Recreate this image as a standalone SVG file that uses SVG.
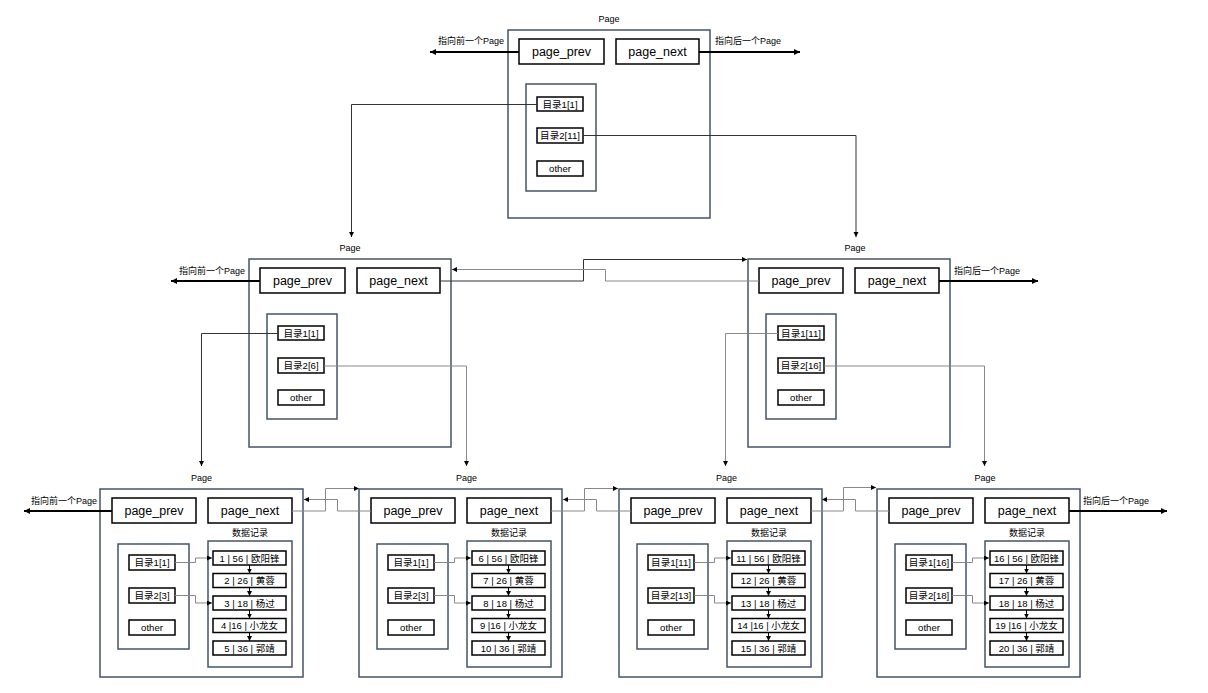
<svg xmlns="http://www.w3.org/2000/svg" width="1208" height="693" viewBox="0 0 1208 693">
<defs>
<marker id="arr" markerUnits="userSpaceOnUse" markerWidth="7" markerHeight="7" refX="6" refY="3" orient="auto"><path d="M0,0 L6,3 L0,6 z" fill="#000"/></marker>
<marker id="arrs" markerUnits="userSpaceOnUse" markerWidth="6" markerHeight="6" refX="5" refY="2.5" orient="auto"><path d="M0,0 L5,2.5 L0,5 z" fill="#000"/></marker>
</defs>
<style>
text{font-family:"Liberation Sans","Noto Sans CJK SC",sans-serif;fill:#000;text-anchor:middle;dominant-baseline:central}
.outer{fill:#fff;stroke:#44546a;stroke-width:1.5}
.inner{fill:none;stroke:#44546a;stroke-width:1.5}
.box{fill:#fff;stroke:#000;stroke-width:1.5}
.big{font-size:12.5px}
.sm{font-size:9px}
.dir{font-size:9.6px}
.rec{font-size:9.5px}
.lnk{fill:none;stroke:#333;stroke-width:1}
.lnkg{fill:none;stroke:#888;stroke-width:1}
.ext{fill:none;stroke:#000;stroke-width:1.8}
.ra{fill:none;stroke:#000;stroke-width:1}
</style>

<g id="page-top" transform="translate(508,30)">
<text class="sm" x="101" y="-11">Page</text>
<rect class="outer" x="0" y="0" width="202" height="188"/>
<rect class="box" x="11" y="9" width="85" height="25"/><text class="big" x="53.5" y="21.5">page_prev</text>
<rect class="box" x="108" y="9" width="83" height="25"/><text class="big" x="149.5" y="21.5">page_next</text>
<rect class="inner" x="18" y="54" width="70" height="107"/>
<rect class="box" x="29" y="67" width="46" height="14"/><text class="dir" x="52" y="74">目录1[1]</text>
<rect class="box" x="29" y="98" width="46" height="15"/><text class="dir" x="52" y="105.5">目录2[11]</text>
<rect class="box" x="29" y="131" width="46" height="15"/><text class="dir" x="52" y="138.5">other</text>
</g>

<g id="page-mid-left" transform="translate(249,259)">
<text class="sm" x="101" y="-11">Page</text>
<rect class="outer" x="0" y="0" width="202" height="188"/>
<rect class="box" x="11" y="9" width="85" height="25"/><text class="big" x="53.5" y="21.5">page_prev</text>
<rect class="box" x="108" y="9" width="83" height="25"/><text class="big" x="149.5" y="21.5">page_next</text>
<rect class="inner" x="18" y="55" width="70" height="105"/>
<rect class="box" x="29" y="67" width="46" height="14"/><text class="dir" x="52" y="74">目录1[1]</text>
<rect class="box" x="29" y="99" width="46" height="15"/><text class="dir" x="52" y="106.5">目录2[6]</text>
<rect class="box" x="29" y="131" width="46" height="15"/><text class="dir" x="52" y="138.5">other</text>
</g>

<g id="page-mid-right" transform="translate(748,259)">
<text class="sm" x="107" y="-11">Page</text>
<rect class="outer" x="0" y="0" width="202" height="188"/>
<rect class="box" x="11" y="9" width="84" height="25"/><text class="big" x="53" y="21.5">page_prev</text>
<rect class="box" x="107" y="9" width="84" height="25"/><text class="big" x="149" y="21.5">page_next</text>
<rect class="inner" x="18" y="55" width="70" height="105"/>
<rect class="box" x="30" y="67" width="46" height="14"/><text class="dir" x="53" y="74">目录1[11]</text>
<rect class="box" x="30" y="99" width="46" height="15"/><text class="dir" x="53" y="106.5">目录2[16]</text>
<rect class="box" x="30" y="131" width="46" height="15"/><text class="dir" x="53" y="138.5">other</text>
</g>

<g id="page-leaf-1" transform="translate(100,489)">
<text class="sm" x="101.5" y="-11">Page</text>
<rect class="outer" x="0" y="0" width="203" height="188"/>
<rect class="box" x="12" y="9" width="84" height="25"/><text class="big" x="54" y="21.5">page_prev</text>
<rect class="box" x="108" y="9" width="84" height="25"/><text class="big" x="150" y="21.5">page_next</text>
<text class="sm" x="150" y="44">数据记录</text>
<rect class="inner" x="18" y="55" width="71" height="105"/>
<rect class="inner" x="108" y="52" width="84" height="126"/>
<rect class="box" x="29" y="66" width="46" height="15"/><text class="dir" x="52" y="73.5">目录1[1]</text>
<rect class="box" x="29" y="99" width="46" height="15"/><text class="dir" x="52" y="106.5">目录2[3]</text>
<rect class="box" x="29" y="131" width="46" height="15"/><text class="dir" x="52" y="138.5">other</text>
<rect class="box" x="113" y="62" width="73" height="14"/><text class="rec" x="149.5" y="69">1 | 56 | 欧阳锋</text>
<rect class="box" x="113" y="84.5" width="73" height="14"/><text class="rec" x="149.5" y="91.5">2 | 26 | 黄蓉</text>
<rect class="box" x="113" y="107" width="73" height="14"/><text class="rec" x="149.5" y="114">3 | 18 | 杨过</text>
<rect class="box" x="113" y="129.5" width="73" height="14"/><text class="rec" x="149.5" y="136.5">4 |16 | 小龙女</text>
<rect class="box" x="113" y="152" width="73" height="14"/><text class="rec" x="149.5" y="159">5 | 36 | 郭靖</text>
</g>

<g id="page-leaf-2" transform="translate(359,489)">
<text class="sm" x="107.5" y="-11">Page</text>
<rect class="outer" x="0" y="0" width="203" height="188"/>
<rect class="box" x="12" y="9" width="84" height="25"/><text class="big" x="54" y="21.5">page_prev</text>
<rect class="box" x="108" y="9" width="84" height="25"/><text class="big" x="150" y="21.5">page_next</text>
<text class="sm" x="150" y="44">数据记录</text>
<rect class="inner" x="18" y="55" width="71" height="105"/>
<rect class="inner" x="108" y="52" width="84" height="126"/>
<rect class="box" x="29" y="66" width="46" height="15"/><text class="dir" x="52" y="73.5">目录1[1]</text>
<rect class="box" x="29" y="99" width="46" height="15"/><text class="dir" x="52" y="106.5">目录2[3]</text>
<rect class="box" x="29" y="131" width="46" height="15"/><text class="dir" x="52" y="138.5">other</text>
<rect class="box" x="113" y="62" width="73" height="14"/><text class="rec" x="149.5" y="69">6 | 56 | 欧阳锋</text>
<rect class="box" x="113" y="84.5" width="73" height="14"/><text class="rec" x="149.5" y="91.5">7 | 26 | 黄蓉</text>
<rect class="box" x="113" y="107" width="73" height="14"/><text class="rec" x="149.5" y="114">8 | 18 | 杨过</text>
<rect class="box" x="113" y="129.5" width="73" height="14"/><text class="rec" x="149.5" y="136.5">9 |16 | 小龙女</text>
<rect class="box" x="113" y="152" width="73" height="14"/><text class="rec" x="149.5" y="159">10 | 36 | 郭靖</text>
</g>

<g id="page-leaf-3" transform="translate(619,489)">
<text class="sm" x="107.5" y="-11">Page</text>
<rect class="outer" x="0" y="0" width="203" height="188"/>
<rect class="box" x="12" y="9" width="84" height="25"/><text class="big" x="54" y="21.5">page_prev</text>
<rect class="box" x="108" y="9" width="84" height="25"/><text class="big" x="150" y="21.5">page_next</text>
<text class="sm" x="150" y="44">数据记录</text>
<rect class="inner" x="18" y="55" width="71" height="105"/>
<rect class="inner" x="108" y="52" width="84" height="126"/>
<rect class="box" x="29" y="66" width="46" height="15"/><text class="dir" x="52" y="73.5">目录1[11]</text>
<rect class="box" x="29" y="99" width="46" height="15"/><text class="dir" x="52" y="106.5">目录2[13]</text>
<rect class="box" x="29" y="131" width="46" height="15"/><text class="dir" x="52" y="138.5">other</text>
<rect class="box" x="113" y="62" width="73" height="14"/><text class="rec" x="149.5" y="69">11 | 56 | 欧阳锋</text>
<rect class="box" x="113" y="84.5" width="73" height="14"/><text class="rec" x="149.5" y="91.5">12 | 26 | 黄蓉</text>
<rect class="box" x="113" y="107" width="73" height="14"/><text class="rec" x="149.5" y="114">13 | 18 | 杨过</text>
<rect class="box" x="113" y="129.5" width="73" height="14"/><text class="rec" x="149.5" y="136.5">14 |16 | 小龙女</text>
<rect class="box" x="113" y="152" width="73" height="14"/><text class="rec" x="149.5" y="159">15 | 36 | 郭靖</text>
</g>

<g id="page-leaf-4" transform="translate(877,489)">
<text class="sm" x="108" y="-11">Page</text>
<rect class="outer" x="0" y="0" width="203" height="188"/>
<rect class="box" x="12" y="9" width="84" height="25"/><text class="big" x="54" y="21.5">page_prev</text>
<rect class="box" x="108" y="9" width="84" height="25"/><text class="big" x="150" y="21.5">page_next</text>
<text class="sm" x="150" y="44">数据记录</text>
<rect class="inner" x="18" y="55" width="71" height="105"/>
<rect class="inner" x="108" y="52" width="84" height="126"/>
<rect class="box" x="29" y="66" width="46" height="15"/><text class="dir" x="52" y="73.5">目录1[16]</text>
<rect class="box" x="29" y="99" width="46" height="15"/><text class="dir" x="52" y="106.5">目录2[18]</text>
<rect class="box" x="29" y="131" width="46" height="15"/><text class="dir" x="52" y="138.5">other</text>
<rect class="box" x="113" y="62" width="73" height="14"/><text class="rec" x="149.5" y="69">16 | 56 | 欧阳锋</text>
<rect class="box" x="113" y="84.5" width="73" height="14"/><text class="rec" x="149.5" y="91.5">17 | 26 | 黄蓉</text>
<rect class="box" x="113" y="107" width="73" height="14"/><text class="rec" x="149.5" y="114">18 | 18 | 杨过</text>
<rect class="box" x="113" y="129.5" width="73" height="14"/><text class="rec" x="149.5" y="136.5">19 |16 | 小龙女</text>
<rect class="box" x="113" y="152" width="73" height="14"/><text class="rec" x="149.5" y="159">20 | 36 | 郭靖</text>
</g>

<g id="connectors">
<path class="ext" d="M519,52 H430" marker-end="url(#arr)"/>
<text class="sm" x="471" y="41">指向前一个Page</text>
<path class="ext" d="M699,52 H800" marker-end="url(#arr)"/>
<text class="sm" x="748" y="41">指向后一个Page</text>
<path class="ext" d="M260,281 H171" marker-end="url(#arr)"/>
<text class="sm" x="212" y="270.5">指向前一个Page</text>
<path class="ext" d="M939,281 H1038" marker-end="url(#arr)"/>
<text class="sm" x="987" y="270.5">指向后一个Page</text>
<path class="ext" d="M112,511 H24" marker-end="url(#arr)"/>
<text class="sm" x="64" y="500.5">指向前一个Page</text>
<path class="ext" d="M1069,511 H1167" marker-end="url(#arr)"/>
<text class="sm" x="1116" y="500.5">指向后一个Page</text>

<path class="lnk" d="M537,104.5 H351.5 V237" marker-end="url(#arrs)"/>
<path class="lnk" d="M583,135.5 H856 V237" marker-end="url(#arrs)"/>

<path class="lnk" d="M278,333.5 H201.5 V466" marker-end="url(#arrs)"/>
<path class="lnkg" d="M324,366 H466.5 V466" marker-end="url(#arrs)"/>
<path class="lnkg" d="M778,333.5 H725.5 V466" marker-end="url(#arrs)"/>
<path class="lnkg" d="M824,366 H984.5 V466" marker-end="url(#arrs)"/>

<path class="lnk" d="M440,281 H583.5 V259.5 H747" marker-end="url(#arrs)"/>
<path class="lnkg" d="M759,281 H605.5 V269.5 H452" marker-end="url(#arrs)"/>

<path class="lnkg" d="M292,511 H325.5 V488.5 H359" marker-end="url(#arrs)"/>
<path class="lnkg" d="M371,511 H337.5 V499.5 H304" marker-end="url(#arrs)"/>
<path class="lnkg" d="M551,511 H584.5 V488.5 H618" marker-end="url(#arrs)"/>
<path class="lnkg" d="M631,511 H596.5 V499.5 H563" marker-end="url(#arrs)"/>
<path class="lnkg" d="M811,511 H843.5 V487.5 H876" marker-end="url(#arrs)"/>
<path class="lnkg" d="M889,511 H855.5 V499.5 H822" marker-end="url(#arrs)"/>

<path class="lnkg" d="M175,562.5 H195.5 V558 H212" marker-end="url(#arrs)"/>
<path class="lnkg" d="M175,595.5 H195.5 V603 H212" marker-end="url(#arrs)"/>
<path class="lnkg" d="M434,562.5 H454.5 V558 H471" marker-end="url(#arrs)"/>
<path class="lnkg" d="M434,595.5 H454.5 V603 H471" marker-end="url(#arrs)"/>
<path class="lnkg" d="M694,562.5 H714.5 V558 H731" marker-end="url(#arrs)"/>
<path class="lnkg" d="M694,595.5 H714.5 V603 H731" marker-end="url(#arrs)"/>
<path class="lnkg" d="M952,562.5 H972.5 V558 H989" marker-end="url(#arrs)"/>
<path class="lnkg" d="M952,595.5 H972.5 V603 H989" marker-end="url(#arrs)"/>

<g class="ra">
<path d="M249.5,565 V573.5" marker-end="url(#arrs)"/><path d="M249.5,587.5 V596" marker-end="url(#arrs)"/><path d="M249.5,610 V618.5" marker-end="url(#arrs)"/><path d="M249.5,632.5 V641" marker-end="url(#arrs)"/>
<path d="M508.5,565 V573.5" marker-end="url(#arrs)"/><path d="M508.5,587.5 V596" marker-end="url(#arrs)"/><path d="M508.5,610 V618.5" marker-end="url(#arrs)"/><path d="M508.5,632.5 V641" marker-end="url(#arrs)"/>
<path d="M768.5,565 V573.5" marker-end="url(#arrs)"/><path d="M768.5,587.5 V596" marker-end="url(#arrs)"/><path d="M768.5,610 V618.5" marker-end="url(#arrs)"/><path d="M768.5,632.5 V641" marker-end="url(#arrs)"/>
<path d="M1026.5,565 V573.5" marker-end="url(#arrs)"/><path d="M1026.5,587.5 V596" marker-end="url(#arrs)"/><path d="M1026.5,610 V618.5" marker-end="url(#arrs)"/><path d="M1026.5,632.5 V641" marker-end="url(#arrs)"/>
</g>
</g>
</svg>
